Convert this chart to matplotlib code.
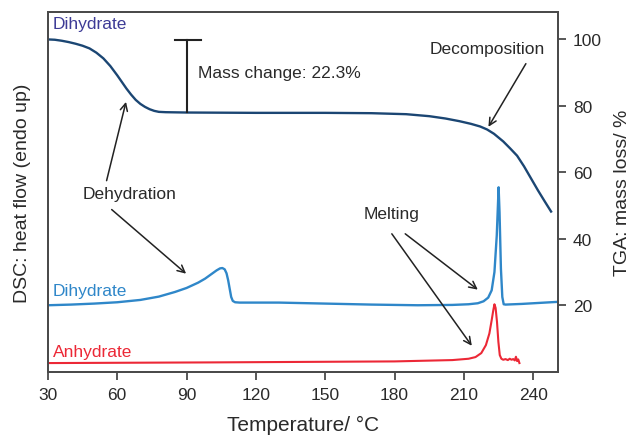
import matplotlib
matplotlib.use("Agg")
import matplotlib.pyplot as plt

plt.rcParams['font.family'] = ['Liberation Sans', 'DejaVu Sans']

# TGA (dihydrate), mass %
tga_temp = [30, 33, 36, 39, 42, 45, 48, 51, 54, 57, 60, 62, 64, 66, 68, 70, 72, 74, 76,
            78, 81, 90, 120, 150, 170, 185, 195, 202, 208, 213, 217, 220, 223, 227, 230,
            233, 236, 239, 242, 245, 247.7]
tga_mass = [100, 99.9, 99.6, 99.2, 98.7, 98.1, 97.3, 96.0, 94.3, 92.0, 89.2, 87.2, 85.2,
            83.4, 81.8, 80.6, 79.7, 79.0, 78.5, 78.2, 78.1, 78.0, 77.9, 77.9, 77.8, 77.5,
            76.9, 76.2, 75.4, 74.6, 73.8, 72.9, 71.6, 69.3, 67.2, 65.0, 61.8, 58.2, 54.6,
            51.2, 48.2]

# DSC dihydrate (arbitrary units on the same scale)
dsc_di_temp = [30, 40, 50, 60, 70, 78, 85, 90, 95, 98, 101, 103, 104.5, 105.5, 106.5, 107.3,
               108, 108.7, 109.3, 110, 111, 113, 130, 150, 170, 190, 205, 212, 216, 218.5,
               220.5, 222, 223.2, 224.2, 224.7, 225.0, 225.4, 226.0, 226.6, 227.2, 228,
               235, 250]
dsc_di_val = [20.0, 20.2, 20.5, 20.9, 21.6, 22.6, 24.0, 25.2, 26.8, 28.0, 29.5, 30.5, 31.1,
              31.2, 30.8, 29.6, 27.5, 24.8, 22.5, 21.3, 20.9, 20.8, 20.8, 20.5, 20.2, 20.0,
              20.1, 20.3, 20.6, 21.2, 22.3, 24.5, 30.0, 41.0, 50.0, 55.5, 48.0, 31.0, 22.5,
              20.3, 20.2, 20.4, 21.0]

# DSC anhydrate
dsc_an_temp = [30, 100, 180, 205, 212, 215, 217.5, 219.5, 221, 222, 222.7, 223.2, 223.7,
               224.3, 224.9, 225.5, 226.2, 227, 228, 229, 229.8, 230.6, 231.3, 232, 232.5,
               233, 233.5, 234]
dsc_an_val = [2.6, 2.8, 3.1, 3.5, 3.9, 4.4, 5.6, 8.0, 11.5, 15.5, 18.5, 20.3, 19.2, 15.0,
              9.0, 5.0, 3.9, 3.6, 3.8, 3.5, 3.9, 3.6, 3.8, 3.4, 4.5, 3.2, 3.7, 2.6]

x_ticks = [30, 60, 90, 120, 150, 180, 210, 240]
tga_ticks = [20, 40, 60, 80, 100]

c_tga = "#1b4673"
c_di = "#2f87c9"
c_an = "#ec2836"
c_label = "#3d3b96"
c_text = "#2a2a2a"
c_spine = "#4a4a4a"

fig = plt.figure(figsize=(6.3, 4.39), dpi=100)
ax = fig.add_axes([0.076, 0.151, 0.809, 0.819])
ax2 = ax.twinx()

for a in (ax, ax2):
    a.set_xlim(30, 250.5)
    a.set_ylim(0, 108.2)
    for s in a.spines.values():
        s.set_color(c_spine)
        s.set_linewidth(1.3)

ax.plot(dsc_di_temp, dsc_di_val, color=c_di, lw=1.7)
ax.plot(dsc_an_temp, dsc_an_val, color=c_an, lw=1.5)
ax2.plot(tga_temp, tga_mass, color=c_tga, lw=1.7)

ax.set_xticks(x_ticks)
ax.tick_params(axis="x", direction="out", length=6, width=1.3, colors=c_spine,
               labelsize=12.5, labelcolor=c_text, pad=5)
ax.set_yticks([])
ax2.set_yticks(tga_ticks)
ax2.tick_params(axis="y", direction="out", length=6, width=1.3, colors=c_spine,
                labelsize=12.5, labelcolor=c_text, pad=5)

ax.set_xlabel("Temperature/ °C", fontsize=15, color=c_text, labelpad=9)
ax.set_ylabel("DSC: heat flow (endo up)", fontsize=14, color=c_text, labelpad=12)
ax2.set_ylabel("TGA: mass loss/ %", fontsize=14, color=c_text, labelpad=9)

# curve labels
ax.text(32, 104.8, "Dihydrate", color=c_label, fontsize=12.5, va="center", ha="left")
ax.text(32, 24.5, "Dihydrate", color=c_di, fontsize=12.5, va="center", ha="left")
ax.text(32, 6.2, "Anhydrate", color=c_an, fontsize=12.5, va="center", ha="left")

# mass change bar
ax2.plot([90.2, 90.2], [99.7, 78.1], color="#222222", lw=1.5)
ax2.plot([84.8, 96.1], [99.7, 99.7], color="#222222", lw=1.5)
ax2.text(95, 90, "Mass change: 22.3%", fontsize=12.5, color=c_text, va="center", ha="left")

arrow = dict(arrowstyle="->", color="#222222", lw=1.1, shrinkA=0, shrinkB=0,
             mutation_scale=13)
ax2.text(65.5, 53.5, "Dehydration", fontsize=12.5, color=c_text, ha="center", va="center")
ax2.annotate("", xy=(63.8, 81.2), xytext=(55.4, 57.5), arrowprops=arrow)
ax2.annotate("", xy=(89.8, 29.5), xytext=(57.6, 48.8), arrowprops=arrow)

ax2.text(220.3, 97.4, "Decomposition", fontsize=12.5, color=c_text, ha="center", va="center")
ax2.annotate("", xy=(220.6, 73.7), xytext=(236.8, 92.7), arrowprops=arrow)

ax2.text(178.8, 47.5, "Melting", fontsize=12.5, color=c_text, ha="center", va="center")
ax2.annotate("", xy=(216.0, 24.7), xytext=(184.6, 41.5), arrowprops=arrow)
ax2.annotate("", xy=(213.4, 7.8), xytext=(178.8, 41.5), arrowprops=arrow)

fig.savefig("out.png", dpi=100)
